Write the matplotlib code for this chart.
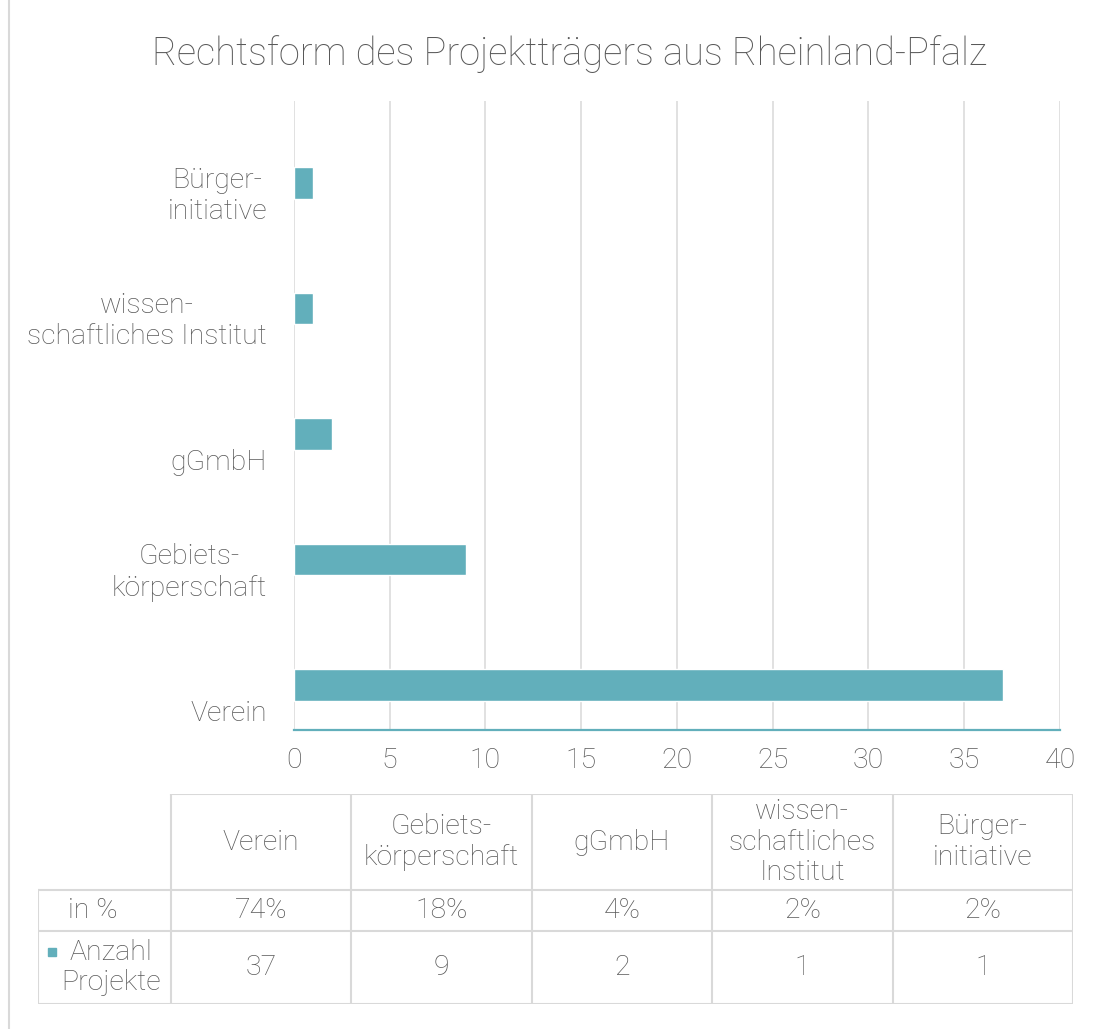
import matplotlib
matplotlib.use("Agg")
import matplotlib.pyplot as plt
import matplotlib.transforms as mtransforms
from matplotlib.lines import Line2D

# Daten
kategorien = ["Verein", "Gebiets-\nkörperschaft", "gGmbH", "wissen-\nschaftliches Institut", "Bürger-\ninitiative"]
tabellen_kopf = ["Verein", "Gebiets-\nkörperschaft", "gGmbH", "wissen-\nschaftliches\nInstitut", "Bürger-\ninitiative"]
anzahl = [37, 9, 2, 1, 1]
prozent = ["74%", "18%", "4%", "2%", "2%"]
x_ticks = [0, 5, 10, 15, 20, 25, 30, 35, 40]

TEAL = "#62AFBB"
GRID = "#D9D9D9"
TEXT = "#595959"
FS = 20.5

plt.rcParams["font.family"] = ["Roboto", "DejaVu Sans"]
plt.rcParams["font.weight"] = "light"
plt.rcParams["text.color"] = TEXT

W, H = 1096, 1029
fig = plt.figure(figsize=(W / 100, H / 100), dpi=100)


def px_rect(left, top, right, bottom):
    return [left / W, 1 - bottom / H, (right - left) / W, (bottom - top) / H]


# Balkendiagramm
ax = fig.add_axes(px_rect(294, 101, 1060, 730))
ypos = list(range(len(kategorien)))
ax.barh(ypos, anzahl, height=0.25, color=TEAL, edgecolor="white", linewidth=1, zorder=3)
ax.set_xlim(0, 40)
ax.set_ylim(-0.358, 4.652)
ax.set_xticks(x_ticks)
ax.set_xticklabels([str(t) for t in x_ticks], fontsize=FS, color=TEXT, fontweight="light")
ax.set_yticks([])
ax.tick_params(axis="x", length=0, pad=12)
ax.grid(axis="x", color=GRID, linewidth=1.1, zorder=0)
for s in ["top", "right", "left"]:
    ax.spines[s].set_visible(False)
ax.spines["bottom"].set_color(TEAL)
ax.spines["bottom"].set_linewidth(1.6)
ax.spines["bottom"].set_zorder(4)

off = mtransforms.ScaledTranslation(-27 / 100, -42 / 100, fig.dpi_scale_trans)
trans = mtransforms.blended_transform_factory(ax.transAxes, ax.transData) + off
for y, lab in zip(ypos, kategorien):
    ax.text(0, y, lab, transform=trans, ha="right", va="bottom", multialignment="center",
            fontsize=FS, color=TEXT, fontweight="light", linespacing=1.2)

fig.text(569 / W, 1 - 65 / H, "Rechtsform des Projektträgers aus Rheinland-Pfalz",
         ha="center", va="baseline", fontsize=27.4, color=TEXT, fontweight="light")

# Datentabelle
tax = fig.add_axes(px_rect(38, 794, 1073, 1004))
w0 = 133 / 180.4
rows = [0, 96, 137, 210]
n = len(tabellen_kopf)
tax.set_xlim(-w0, n)
tax.set_ylim(rows[-1], rows[0])
tax.axis("off")

lw = 1.5
for j in range(n + 1):
    tax.plot([j, j], [rows[0], rows[-1]], color=GRID, lw=lw, solid_capstyle="projecting")
tax.plot([-w0, -w0], [rows[1], rows[-1]], color=GRID, lw=lw, solid_capstyle="projecting")
tax.plot([0, n], [rows[0], rows[0]], color=GRID, lw=lw, solid_capstyle="projecting")
for r in rows[1:]:
    tax.plot([-w0, n], [r, r], color=GRID, lw=lw, solid_capstyle="projecting")

for j in range(n):
    tax.text(j + 0.5, (rows[0] + rows[1]) / 2, tabellen_kopf[j], ha="center", va="center",
             fontsize=FS, color=TEXT, fontweight="light", linespacing=1.15)
    tax.text(j + 0.5, (rows[1] + rows[2]) / 2, prozent[j], ha="center", va="center",
             fontsize=FS, color=TEXT, fontweight="light")
    tax.text(j + 0.5, (rows[2] + rows[3]) / 2, str(anzahl[j]), ha="center", va="center",
             fontsize=FS, color=TEXT, fontweight="light")

tax.text(-w0 + 30 / 180.4, (rows[1] + rows[2]) / 2, "in %", ha="left", va="center",
         fontsize=FS, color=TEXT, fontweight="light")
tax.text(-w0 + 73 / 180.4, (rows[2] + rows[3]) / 2, "Anzahl\nProjekte", ha="center", va="center",
         multialignment="center", fontsize=FS, color=TEXT, fontweight="light", linespacing=1.15)
tax.plot([-w0 + 14 / 180.4], [158], marker="s", markersize=5.5, color=TEAL, linestyle="none")

# linke Randlinie
fig.add_artist(Line2D([9 / W, 9 / W], [0, 1], transform=fig.transFigure, color=GRID, lw=1.5))

fig.savefig("out.png", dpi=100)
